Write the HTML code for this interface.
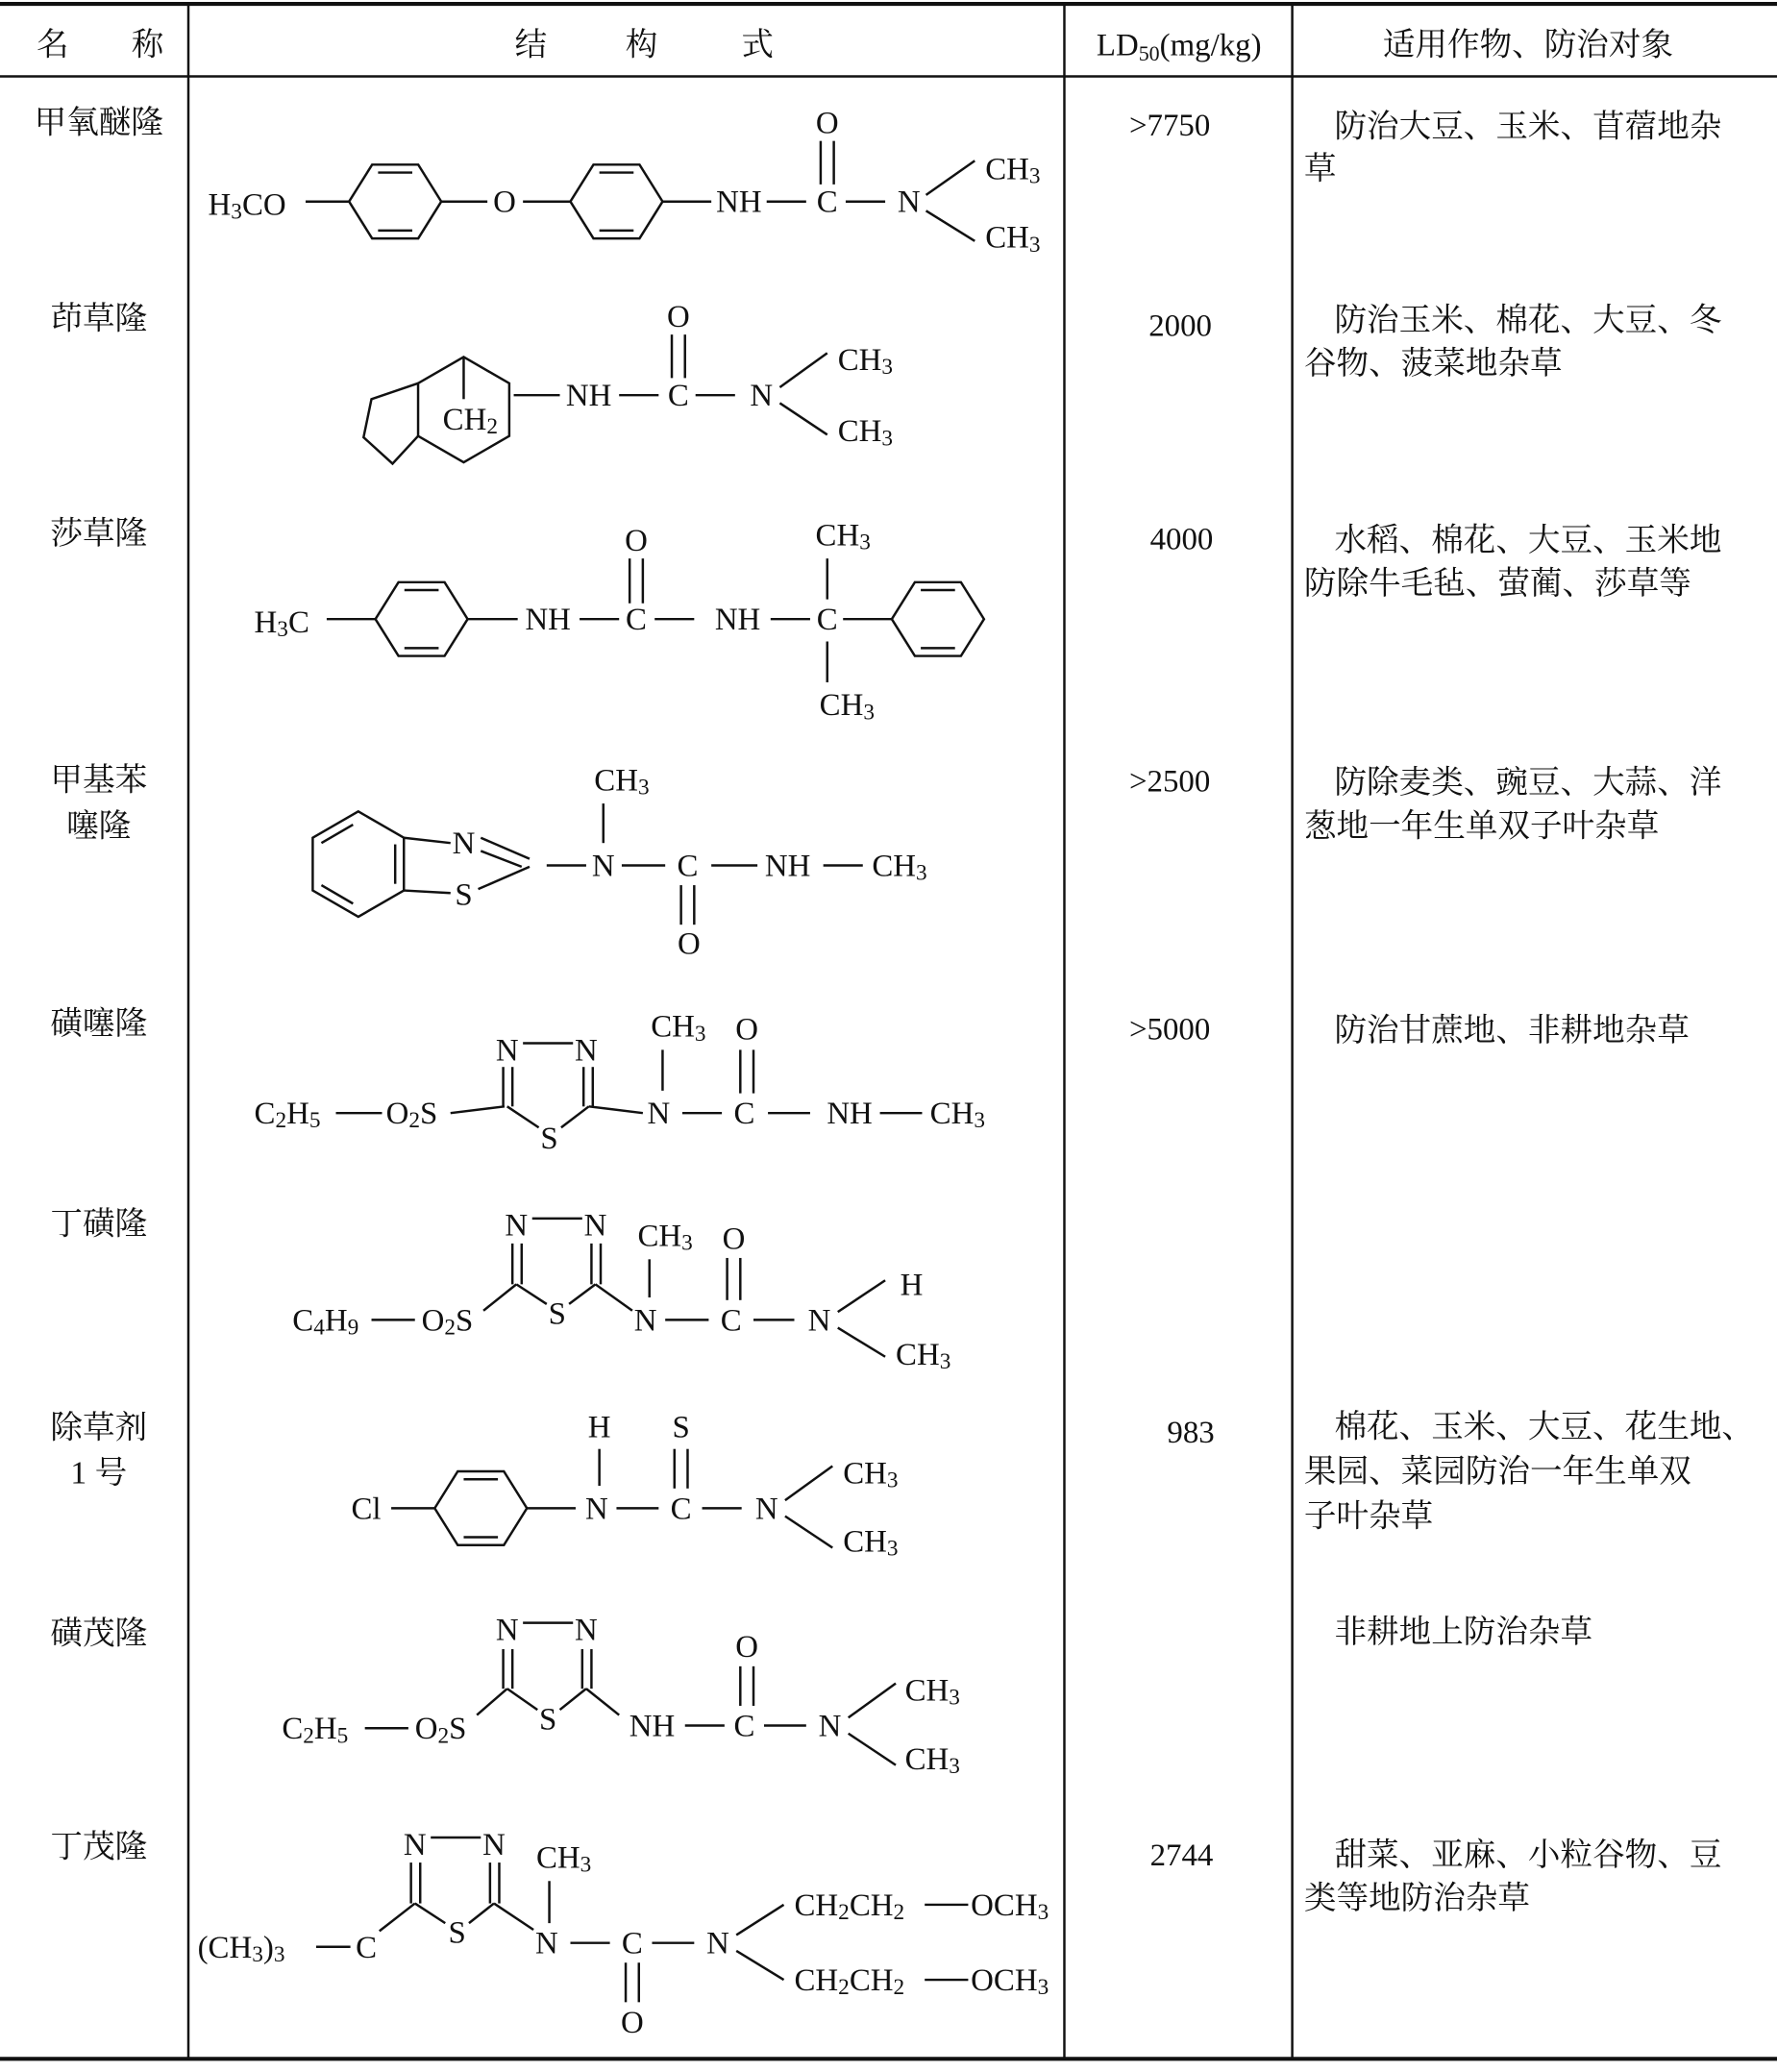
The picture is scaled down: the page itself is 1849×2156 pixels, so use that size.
<!DOCTYPE html>
<html><head><meta charset="utf-8"><style>
html,body{margin:0;padding:0;background:#fff}
svg{display:block}
text{font-family:"Liberation Serif","Noto Serif CJK SC",serif;font-size:24px;fill:#111}
.c{font-family:"Liberation Serif","Noto Serif CJK SC",serif;font-size:24.5px}
.m{text-anchor:middle}
line,polyline,polygon{stroke:#111;stroke-width:1.8;fill:none}
</style></head><body>
<svg width="1849" height="2156" viewBox="0 0 1349 1573" preserveAspectRatio="none" xmlns="http://www.w3.org/2000/svg">
<defs>
<g id="ring"><polygon points="-35,0 -17.5,-28 17.5,-28 35,0 17.5,28 -17.5,28"/><line x1="-13" y1="-22" x2="13" y2="-22"/><line x1="-13" y1="22" x2="13" y2="22"/></g>
</defs>
<line x1="0" y1="3" x2="1349" y2="3" style="stroke-width:3"/>
<line x1="0" y1="58" x2="1349" y2="58"/>
<line x1="0" y1="1563" x2="1349" y2="1563" style="stroke-width:3"/>
<line x1="143" y1="3" x2="143" y2="1563"/>
<line x1="808" y1="3" x2="808" y2="1563"/>
<line x1="981" y1="3" x2="981" y2="1563"/>
<text x="40" y="42" class="c m">名</text><text x="112" y="42" class="c m">称</text>
<text x="403" y="42" class="c m">结</text><text x="487" y="42" class="c m">构</text><text x="575" y="42" class="c m">式</text>
<text x="895" y="42" class="m">LD<tspan font-size="16" dy="4">50</tspan><tspan dy="-4">(mg/kg)</tspan></text>
<text x="1160" y="42" class="c m">适用作物、防治对象</text>

<text x="75" y="101" class="c m">甲氧醚隆</text>
<text x="75" y="250" class="c m">茚草隆</text>
<text x="75" y="413" class="c m">莎草隆</text>
<text x="75" y="600" class="c m">甲基苯</text><text x="75" y="635" class="c m">噻隆</text>
<text x="75" y="785" class="c m">磺噻隆</text>
<text x="75" y="937" class="c m">丁磺隆</text>
<text x="75" y="1092" class="c m">除草剂</text><text x="75" y="1126" class="c m">1 号</text>
<text x="75" y="1248" class="c m">磺茂隆</text>
<text x="75" y="1410" class="c m">丁茂隆</text>

<text x="888" y="103" class="m">&gt;7750</text>
<text x="896" y="255" class="m">2000</text>
<text x="897" y="417" class="m">4000</text>
<text x="888" y="601" class="m">&gt;2500</text>
<text x="888" y="789" class="m">&gt;5000</text>
<text x="904" y="1095" class="m">983</text>
<text x="897" y="1416" class="m">2744</text>

<text x="1013" y="104" class="c">防治大豆、玉米、苜蓿地杂</text><text x="990" y="136" class="c">草</text>
<text x="1013" y="251" class="c">防治玉米、棉花、大豆、冬</text><text x="990" y="284" class="c">谷物、菠菜地杂草</text>
<text x="1013" y="418" class="c">水稻、棉花、大豆、玉米地</text><text x="990" y="451" class="c">防除牛毛毡、萤蔺、莎草等</text>
<text x="1013" y="602" class="c">防除麦类、豌豆、大蒜、洋</text><text x="990" y="635" class="c">葱地一年生单双子叶杂草</text>
<text x="1013" y="790" class="c">防治甘蔗地、非耕地杂草</text>
<text x="1013" y="1091" class="c">棉花、玉米、大豆、花生地、</text><text x="990" y="1125" class="c">果园、菜园防治一年生单双</text><text x="990" y="1159" class="c">子叶杂草</text>
<text x="1013" y="1247" class="c">非耕地上防治杂草</text>
<text x="1013" y="1416" class="c">甜菜、亚麻、小粒谷物、豆</text><text x="990" y="1449" class="c">类等地防治杂草</text>

<!-- Row1 -->
<text x="158" y="163">H<tspan font-size="17" dy="3">3</tspan><tspan dy="-3">CO</tspan></text>
<line x1="232" y1="153" x2="265" y2="153"/>
<use href="#ring" x="300" y="153"/>
<line x1="335" y1="153" x2="370" y2="153"/>
<text x="383" y="161" class="m">O</text>
<line x1="397" y1="153" x2="433" y2="153"/>
<use href="#ring" x="468" y="153"/>
<line x1="503" y1="153" x2="540" y2="153"/>
<text x="561" y="161" class="m">NH</text>
<line x1="582" y1="153" x2="612" y2="153"/>
<text x="628" y="161" class="m">C</text>
<text x="628" y="101" class="m">O</text>
<line x1="623" y1="107" x2="623" y2="140"/><line x1="633" y1="107" x2="633" y2="140"/>
<line x1="642" y1="153" x2="672" y2="153"/>
<text x="690" y="161" class="m">N</text>
<line x1="703" y1="148" x2="740" y2="122"/><line x1="703" y1="160" x2="740" y2="183"/>
<text x="748" y="136">CH<tspan font-size="17" dy="3">3</tspan></text>
<text x="748" y="188">CH<tspan font-size="17" dy="3">3</tspan></text>

<!-- Row2 -->
<polygon points="352,271 386.6,291 386.6,331 352,351 317.4,331 317.4,291"/>
<polyline points="317.4,291 282,303 276,332 298,352 317.4,331"/>
<line x1="352" y1="271" x2="352" y2="303"/>
<text x="357" y="326" class="m">CH<tspan font-size="17" dy="3">2</tspan></text>
<line x1="390" y1="300" x2="425" y2="300"/>
<text x="447" y="308" class="m">NH</text>
<line x1="470" y1="300" x2="500" y2="300"/>
<text x="515" y="308" class="m">C</text>
<text x="515" y="248" class="m">O</text>
<line x1="510" y1="254" x2="510" y2="287"/><line x1="520" y1="254" x2="520" y2="287"/>
<line x1="528" y1="300" x2="558" y2="300"/>
<text x="578" y="308" class="m">N</text>
<line x1="592" y1="294" x2="628" y2="268"/><line x1="592" y1="306" x2="628" y2="330"/>
<text x="636" y="281">CH<tspan font-size="17" dy="3">3</tspan></text>
<text x="636" y="335">CH<tspan font-size="17" dy="3">3</tspan></text>

<!-- Row3 -->
<text x="193" y="480">H<tspan font-size="17" dy="3">3</tspan><tspan dy="-3">C</tspan></text>
<line x1="248" y1="470" x2="285" y2="470"/>
<use href="#ring" x="320" y="470"/>
<line x1="355" y1="470" x2="393" y2="470"/>
<text x="416" y="478" class="m">NH</text>
<line x1="440" y1="470" x2="470" y2="470"/>
<text x="483" y="478" class="m">C</text>
<text x="483" y="418" class="m">O</text>
<line x1="478" y1="424" x2="478" y2="458"/><line x1="488" y1="424" x2="488" y2="458"/>
<line x1="497" y1="470" x2="527" y2="470"/>
<text x="560" y="478" class="m">NH</text>
<line x1="585" y1="470" x2="615" y2="470"/>
<text x="628" y="478" class="m">C</text>
<text x="640" y="414" class="m">CH<tspan font-size="17" dy="3">3</tspan></text>
<line x1="628" y1="424" x2="628" y2="455"/><line x1="628" y1="487" x2="628" y2="518"/>
<text x="643" y="543" class="m">CH<tspan font-size="17" dy="3">3</tspan></text>
<line x1="640" y1="470" x2="678" y2="470"/>
<use href="#ring" x="712" y="470"/>

<!-- Row4 -->
<polygon points="272,616 306.6,636 306.6,676 272,696 237.4,676 237.4,636"/>
<line x1="300" y1="641" x2="300" y2="671"/><line x1="244" y1="640" x2="268" y2="626"/><line x1="244" y1="672" x2="268" y2="686"/>
<line x1="306.6" y1="636" x2="342" y2="640"/><line x1="306.6" y1="676" x2="342" y2="678"/>
<text x="352" y="648" class="m">N</text><text x="352" y="687" class="m">S</text>
<line x1="365" y1="636" x2="402" y2="652"/><line x1="365" y1="646" x2="396" y2="658"/>
<line x1="363" y1="675" x2="402" y2="658"/>
<line x1="415" y1="657" x2="445" y2="657"/>
<text x="458" y="665" class="m">N</text>
<text x="472" y="600" class="m">CH<tspan font-size="17" dy="3">3</tspan></text>
<line x1="458" y1="610" x2="458" y2="640"/>
<line x1="472" y1="657" x2="505" y2="657"/>
<text x="522" y="665" class="m">C</text>
<line x1="517" y1="672" x2="517" y2="702"/><line x1="527" y1="672" x2="527" y2="702"/>
<text x="523" y="724" class="m">O</text>
<line x1="540" y1="657" x2="575" y2="657"/>
<text x="598" y="665" class="m">NH</text>
<line x1="625" y1="657" x2="655" y2="657"/>
<text x="662" y="665">CH<tspan font-size="17" dy="3">3</tspan></text>

<!-- Row5 -->
<text x="193" y="853">C<tspan font-size="17" dy="3">2</tspan><tspan dy="-3">H</tspan><tspan font-size="17" dy="3">5</tspan></text>
<line x1="255" y1="845" x2="290" y2="845"/>
<text x="293" y="853">O<tspan font-size="17" dy="3">2</tspan><tspan dy="-3">S</tspan></text>
<line x1="342" y1="845" x2="383" y2="840"/>
<text x="385" y="805" class="m">N</text><text x="445" y="805" class="m">N</text>
<line x1="397" y1="792" x2="435" y2="792"/>
<line x1="382" y1="810" x2="382" y2="840"/><line x1="389" y1="810" x2="389" y2="840"/>
<line x1="443" y1="810" x2="443" y2="840"/><line x1="450" y1="810" x2="450" y2="840"/>
<text x="417" y="872" class="m">S</text>
<line x1="385" y1="840" x2="409" y2="856"/><line x1="447" y1="840" x2="426" y2="856"/>
<line x1="447" y1="840" x2="488" y2="845"/>
<text x="500" y="853" class="m">N</text>
<text x="515" y="787" class="m">CH<tspan font-size="17" dy="3">3</tspan></text>
<line x1="503" y1="797" x2="503" y2="828"/>
<line x1="518" y1="845" x2="548" y2="845"/>
<text x="565" y="853" class="m">C</text>
<text x="567" y="789" class="m">O</text>
<line x1="562" y1="797" x2="562" y2="830"/><line x1="572" y1="797" x2="572" y2="830"/>
<line x1="583" y1="845" x2="615" y2="845"/>
<text x="645" y="853" class="m">NH</text>
<line x1="668" y1="845" x2="700" y2="845"/>
<text x="706" y="853">CH<tspan font-size="17" dy="3">3</tspan></text>

<!-- Row6 -->
<text x="222" y="1010">C<tspan font-size="17" dy="3">4</tspan><tspan dy="-3">H</tspan><tspan font-size="17" dy="3">9</tspan></text>
<line x1="282" y1="1002" x2="315" y2="1002"/>
<text x="320" y="1010">O<tspan font-size="17" dy="3">2</tspan><tspan dy="-3">S</tspan></text>
<line x1="367" y1="995" x2="392" y2="975"/>
<text x="392" y="938" class="m">N</text><text x="452" y="938" class="m">N</text>
<line x1="404" y1="925" x2="442" y2="925"/>
<line x1="389" y1="944" x2="389" y2="975"/><line x1="396" y1="944" x2="396" y2="975"/>
<line x1="449" y1="944" x2="449" y2="975"/><line x1="456" y1="944" x2="456" y2="975"/>
<text x="423" y="1005" class="m">S</text>
<line x1="392" y1="975" x2="415" y2="990"/><line x1="452" y1="975" x2="432" y2="990"/>
<line x1="452" y1="975" x2="480" y2="995"/>
<text x="490" y="1010" class="m">N</text>
<text x="505" y="946" class="m">CH<tspan font-size="17" dy="3">3</tspan></text>
<line x1="493" y1="956" x2="493" y2="985"/>
<line x1="505" y1="1002" x2="538" y2="1002"/>
<text x="555" y="1010" class="m">C</text>
<text x="557" y="948" class="m">O</text>
<line x1="552" y1="955" x2="552" y2="987"/><line x1="562" y1="955" x2="562" y2="987"/>
<line x1="572" y1="1002" x2="603" y2="1002"/>
<text x="622" y="1010" class="m">N</text>
<line x1="636" y1="996" x2="672" y2="972"/><line x1="636" y1="1008" x2="672" y2="1030"/>
<text x="692" y="983" class="m">H</text>
<text x="680" y="1036">CH<tspan font-size="17" dy="3">3</tspan></text>

<!-- Row7 -->
<text x="278" y="1153" class="m">Cl</text>
<line x1="297" y1="1145" x2="330" y2="1145"/>
<use href="#ring" x="365" y="1145"/>
<line x1="400" y1="1145" x2="437" y2="1145"/>
<text x="453" y="1153" class="m">N</text>
<text x="455" y="1091" class="m">H</text>
<line x1="455" y1="1100" x2="455" y2="1128"/>
<line x1="468" y1="1145" x2="500" y2="1145"/>
<text x="517" y="1153" class="m">C</text>
<text x="517" y="1091" class="m">S</text>
<line x1="512" y1="1100" x2="512" y2="1130"/><line x1="522" y1="1100" x2="522" y2="1130"/>
<line x1="533" y1="1145" x2="563" y2="1145"/>
<text x="582" y="1153" class="m">N</text>
<line x1="596" y1="1139" x2="632" y2="1113"/><line x1="596" y1="1151" x2="632" y2="1175"/>
<text x="640" y="1126">CH<tspan font-size="17" dy="3">3</tspan></text>
<text x="640" y="1178">CH<tspan font-size="17" dy="3">3</tspan></text>

<!-- Row8 -->
<text x="214" y="1320">C<tspan font-size="17" dy="3">2</tspan><tspan dy="-3">H</tspan><tspan font-size="17" dy="3">5</tspan></text>
<line x1="277" y1="1312" x2="310" y2="1312"/>
<text x="315" y="1320">O<tspan font-size="17" dy="3">2</tspan><tspan dy="-3">S</tspan></text>
<line x1="362" y1="1302" x2="385" y2="1282"/>
<text x="385" y="1245" class="m">N</text><text x="445" y="1245" class="m">N</text>
<line x1="397" y1="1232" x2="435" y2="1232"/>
<line x1="382" y1="1252" x2="382" y2="1282"/><line x1="389" y1="1252" x2="389" y2="1282"/>
<line x1="442" y1="1252" x2="442" y2="1282"/><line x1="449" y1="1252" x2="449" y2="1282"/>
<text x="416" y="1313" class="m">S</text>
<line x1="385" y1="1282" x2="408" y2="1298"/><line x1="445" y1="1282" x2="425" y2="1298"/>
<line x1="445" y1="1282" x2="470" y2="1302"/>
<text x="495" y="1318" class="m">NH</text>
<line x1="520" y1="1310" x2="550" y2="1310"/>
<text x="565" y="1318" class="m">C</text>
<text x="567" y="1258" class="m">O</text>
<line x1="562" y1="1265" x2="562" y2="1295"/><line x1="572" y1="1265" x2="572" y2="1295"/>
<line x1="580" y1="1310" x2="612" y2="1310"/>
<text x="630" y="1318" class="m">N</text>
<line x1="644" y1="1304" x2="680" y2="1278"/><line x1="644" y1="1316" x2="680" y2="1340"/>
<text x="687" y="1291">CH<tspan font-size="17" dy="3">3</tspan></text>
<text x="687" y="1343">CH<tspan font-size="17" dy="3">3</tspan></text>

<!-- Row9 -->
<text x="150" y="1486">(CH<tspan font-size="17" dy="3">3</tspan><tspan dy="-3">)</tspan><tspan font-size="17" dy="3">3</tspan></text>
<line x1="240" y1="1478" x2="266" y2="1478"/>
<text x="278" y="1486" class="m">C</text>
<line x1="288" y1="1466" x2="315" y2="1445"/>
<text x="315" y="1408" class="m">N</text><text x="375" y="1408" class="m">N</text>
<line x1="327" y1="1395" x2="365" y2="1395"/>
<line x1="312" y1="1414" x2="312" y2="1445"/><line x1="319" y1="1414" x2="319" y2="1445"/>
<line x1="372" y1="1414" x2="372" y2="1445"/><line x1="379" y1="1414" x2="379" y2="1445"/>
<text x="347" y="1475" class="m">S</text>
<line x1="315" y1="1445" x2="338" y2="1460"/><line x1="375" y1="1445" x2="356" y2="1460"/>
<line x1="375" y1="1445" x2="405" y2="1465"/>
<text x="415" y="1483" class="m">N</text>
<text x="428" y="1418" class="m">CH<tspan font-size="17" dy="3">3</tspan></text>
<line x1="417" y1="1428" x2="417" y2="1460"/>
<line x1="433" y1="1475" x2="463" y2="1475"/>
<text x="480" y="1483" class="m">C</text>
<line x1="475" y1="1490" x2="475" y2="1520"/><line x1="485" y1="1490" x2="485" y2="1520"/>
<text x="480" y="1543" class="m">O</text>
<line x1="495" y1="1475" x2="527" y2="1475"/>
<text x="545" y="1483" class="m">N</text>
<line x1="559" y1="1469" x2="595" y2="1446"/><line x1="559" y1="1481" x2="595" y2="1503"/>
<text x="603" y="1454">CH<tspan font-size="17" dy="3">2</tspan><tspan dy="-3">CH</tspan><tspan font-size="17" dy="3">2</tspan></text>
<text x="603" y="1511">CH<tspan font-size="17" dy="3">2</tspan><tspan dy="-3">CH</tspan><tspan font-size="17" dy="3">2</tspan></text>
<line x1="702" y1="1446" x2="735" y2="1446"/><line x1="702" y1="1503" x2="735" y2="1503"/>
<text x="737" y="1454">OCH<tspan font-size="17" dy="3">3</tspan></text>
<text x="737" y="1511">OCH<tspan font-size="17" dy="3">3</tspan></text>
</svg>
</body></html>
